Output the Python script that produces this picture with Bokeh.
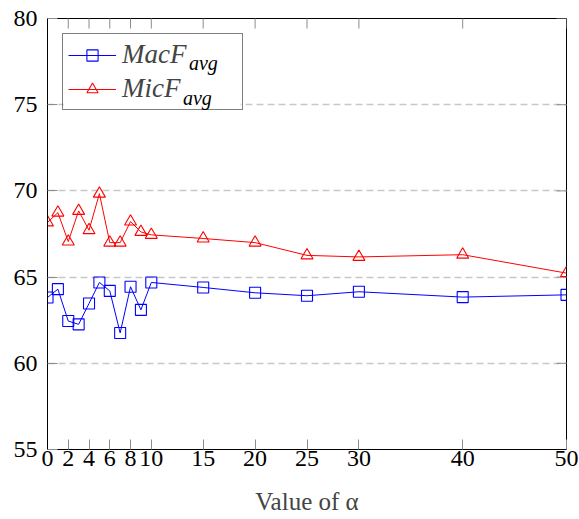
import math
from bokeh.plotting import figure
from bokeh.models import (LinearAxis, FixedTicker, Range1d, Legend, LegendItem, Grid)
from bokeh.embed import file_html
from bokeh.resources import INLINE
from bokeh.core.properties import value

# ---- data ----
alpha = [0, 1, 2, 3, 4, 5, 6, 7, 8, 9, 10, 15, 20, 25, 30, 40, 50]
mac_f = [63.82, 64.3, 62.45, 62.26, 63.47, 64.69, 64.2, 61.76, 64.44, 63.1, 64.69,
         64.4, 64.09, 63.92, 64.15, 63.84, 63.97]
mic_f = [68.17, 68.74, 67.06, 68.84, 67.72, 69.84, 67.0, 67.0, 68.22, 67.62, 67.45,
         67.24, 67.0, 66.26, 66.17, 66.3, 65.23]
x_ticks = [0, 2, 4, 6, 8, 10, 15, 20, 25, 30, 40, 50]
y_ticks = [55, 60, 65, 70, 75, 80]
grid_ticks = [60, 65, 70, 75]
series_names = ["MacF", "MicF"]
series_sub = "avg"
x_label = "Value of α"

FONT = "Liberation Serif"
TICK_COLOR = "#8c8c8c"

W, H = 579, 519
B_LEFT, B_RIGHT, B_TOP, B_BOTTOM = 47, 13, 18, 70
FRAME_W = W - B_LEFT - B_RIGHT
FRAME_H = H - B_TOP - B_BOTTOM
X0, X1 = x_ticks[0], x_ticks[-1]
Y0, Y1 = y_ticks[0], y_ticks[-1]

p = figure(width=W, height=H, output_backend="svg", toolbar_location=None,
           x_range=Range1d(X0, X1), y_range=Range1d(Y0, Y1),
           x_axis_type=None, y_axis_type=None,
           min_border_left=B_LEFT, min_border_right=B_RIGHT,
           min_border_top=B_TOP, min_border_bottom=B_BOTTOM)
p.background_fill_color = "white"
p.border_fill_color = "white"
p.outline_line_color = "black"
p.outline_line_width = 1


def px_x(px):
    """pixel offset from the frame's left edge -> x data value"""
    return X0 + px * (X1 - X0) / FRAME_W


def px_y(py):
    """pixel offset from the frame's top edge -> y data value"""
    return Y1 - py * (Y1 - Y0) / FRAME_H


xt = FixedTicker(ticks=x_ticks, minor_ticks=[])
yt = FixedTicker(ticks=y_ticks, minor_ticks=[])


def style_axis(ax):
    ax.major_tick_in = 10
    ax.major_tick_out = 0
    ax.minor_tick_line_color = None
    ax.major_tick_line_color = TICK_COLOR
    ax.major_tick_line_width = 1
    ax.axis_line_color = "black"
    ax.axis_line_width = 1
    ax.major_label_text_font = FONT
    ax.major_label_text_color = "black"
    ax.major_label_text_font_size = "24px"


bottom = LinearAxis(ticker=xt)
style_axis(bottom)
bottom.major_label_standoff = 1
bottom.axis_label = x_label
bottom.axis_label_text_font = FONT
bottom.axis_label_text_font_style = "normal"
bottom.axis_label_text_font_size = "25px"
bottom.axis_label_standoff = 19
p.add_layout(bottom, "below")

left = LinearAxis(ticker=yt)
style_axis(left)
left.major_label_standoff = 10
p.add_layout(left, "left")

# grid
g = Grid(dimension=1, ticker=FixedTicker(ticks=grid_ticks))
g.grid_line_color = "#c8c8c8"
g.grid_line_dash = "7 4"
g.grid_line_width = 1.3
p.add_layout(g)

# legend geometry (pixels inside the frame)
LEG_MARGIN, LEG_PAD, LEG_GW, LEG_STANDOFF, LEG_SPACING = 15, 5, 48, 6, 3
LEG_FS = 27
LEG_W, LEG_H = 179, 76

# white backing of the legend box (hides the grid line under it)
p.quad(left=[px_x(LEG_MARGIN + 1)], right=[px_x(LEG_MARGIN + LEG_W - 1)],
       top=[px_y(LEG_MARGIN + 1)], bottom=[px_y(LEG_MARGIN + LEG_H - 1)],
       fill_color="white", line_color=None)

# inward tick marks on the top and right edges (clipped half of a dash)
p.scatter(x_ticks, [Y1] * len(x_ticks), marker="dash", size=20,
          angle=math.pi / 2, line_color=TICK_COLOR, line_width=1)
p.scatter([X1] * len(y_ticks), y_ticks, marker="dash", size=20,
          angle=0, line_color=TICK_COLOR, line_width=1)

# series
l1 = p.line(alpha, mac_f, line_color="#0000ff", line_width=1)
s1 = p.scatter(alpha, mac_f, marker="square", size=11, line_color="#0000ff",
               fill_alpha=0, line_width=1.1)
l2 = p.line(alpha, mic_f, line_color="#ff0000", line_width=1)
s2 = p.scatter(alpha, mic_f, marker="triangle", size=12, line_color="#ff0000",
               fill_alpha=0, line_width=1.1)

# subscripts of the legend labels
text_x0 = LEG_MARGIN + LEG_PAD + LEG_GW + LEG_STANDOFF
main_w = [2.388 * LEG_FS, 2.166 * LEG_FS]
row_c = [35.6, 70.0]
p.text(x=[px_x(text_x0 + main_w[i] + 3) for i in range(2)],
       y=[px_y(row_c[i] + 9) for i in range(2)],
       text=[series_sub, series_sub],
       text_font=value(FONT), text_font_style="italic", text_font_size="20px",
       text_baseline="alphabetic", text_align="left", text_color="black")

legend = Legend(items=[LegendItem(label=series_names[0], renderers=[l1, s1]),
                       LegendItem(label=series_names[1], renderers=[l2, s2])],
                location="top_left")
legend.margin = LEG_MARGIN
legend.padding = LEG_PAD
legend.spacing = LEG_SPACING
legend.glyph_width = LEG_GW
legend.glyph_height = 28
legend.label_height = 28
legend.label_width = 115
legend.label_standoff = LEG_STANDOFF
legend.label_text_font = FONT
legend.label_text_font_style = "italic"
legend.label_text_font_size = f"{LEG_FS}px"
legend.border_line_color = "black"
legend.border_line_width = 1
legend.background_fill_alpha = 0
p.add_layout(legend)

open("out.html", "w").write(file_html(p, INLINE))
